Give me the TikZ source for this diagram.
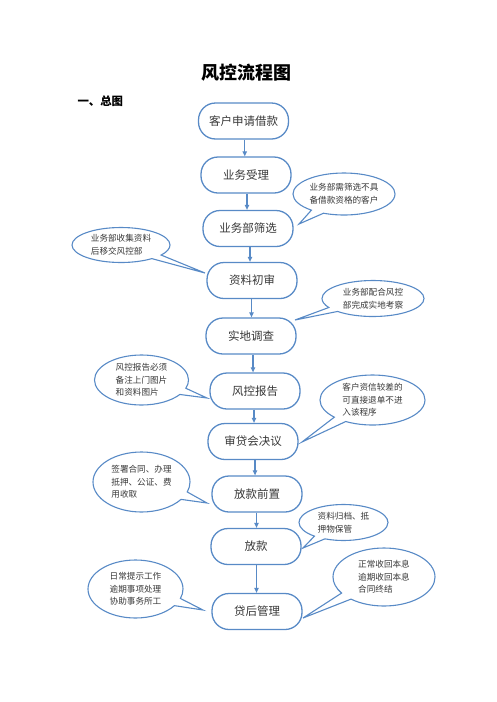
\documentclass[tikz,border=0pt]{standalone}
\usepackage{fontspec}
\setmainfont{Noto Sans CJK SC}
\usetikzlibrary{shapes.callouts,shapes.geometric,arrows.meta,calc}
\definecolor{lineblue}{RGB}{88,138,198}
\definecolor{txt}{RGB}{55,55,55}
\begin{document}
\begin{tikzpicture}[x=1pt,y=-1pt,
  stepbox/.style={draw=lineblue,line width=1.3pt,rounded corners=17pt,minimum width=90pt,minimum height=36pt,inner sep=0pt,font=\fontsize{11.5}{13}\selectfont,text=txt},
  bubble/.style={ellipse callout,draw=lineblue,line width=1.1pt,callout pointer arc=16,align=left,inner sep=0pt,font=\fontsize{8.6}{12.6}\selectfont,text=txt},
  arr/.style={draw=lineblue,line width=1.1pt,-{Triangle[length=5pt,width=4.5pt]}}]
\useasboundingbox (0,0) rectangle (496,702);
\node[font=\fontsize{18}{20}\selectfont\bfseries] (title) at (246,73) {风控流程图};
\node[font=\fontsize{11.4}{13}\selectfont\bfseries,anchor=west] (sec) at (74,101) {一、总图};
\node[stepbox] (b1) at (243.5,121) {客户申请借款};
\node[stepbox] (b2) at (246,175) {业务受理};
\node[stepbox] (b3) at (248,228.5) {业务部筛选};
\node[stepbox] (b4) at (252,280.5) {资料初审};
\node[stepbox] (b5) at (251,336) {实地调查};
\node[stepbox] (b6) at (255,391) {风控报告};
\node[stepbox] (b7) at (253,441.5) {审贷会决议};
\node[stepbox] (b8) at (257,494) {放款前置};
\node[stepbox] (b9) at (256,546.5) {放款};
\node[stepbox] (b10) at (257,611.5) {贷后管理};
\foreach \a/\b in {b1/b2,b2/b3,b3/b4,b4/b5,b5/b6,b6/b7,b7/b8,b8/b9,b9/b10}{
  \path let \p1=(\a.south),\p2=(\b.north) in
    coordinate (s-\a) at ({(\x1+\x2)/2},\y1) coordinate (e-\a) at ({(\x1+\x2)/2},\y2);
  \draw[arr] (s-\a) -- (e-\a);
}
\coordinate (t1) at (299,224);
\coordinate (t2) at (205,273);
\coordinate (t3) at (295,320);
\coordinate (t4) at (207,398);
\coordinate (t5) at (302,442);
\coordinate (t6) at (207,503);
\coordinate (t7) at (303,548);
\coordinate (t8) at (203,610);
\coordinate (t9) at (303,618);
\node[bubble,minimum width=102pt,minimum height=42pt,callout absolute pointer={(t1)}] (c1) at (344,194) {业务部需筛选不具\\备借款资格的客户};
\node[bubble,minimum width=98pt,minimum height=35pt,callout absolute pointer={(t2)}] (c2) at (121,245) {业务部收集资料\\后移交风控部};
\node[bubble,minimum width=102pt,minimum height=36pt,callout absolute pointer={(t3)}] (c3) at (373,298.5) {业务部配合风控\\部完成实地考察};
\node[bubble,minimum width=94pt,minimum height=50pt,callout absolute pointer={(t4)}] (c4) at (141.5,380) {风控报告必须\\备注上门图片\\和资料图片};
\node[bubble,minimum width=105pt,minimum height=50pt,callout absolute pointer={(t5)}] (c5) at (372.5,400) {客户资信较差的\\可直接退单不进\\入该程序};
\node[bubble,minimum width=97pt,minimum height=60pt,callout absolute pointer={(t6)}] (c6) at (141.5,482) {签署合同、办理\\抵押、公证、费\\用收取};
\node[bubble,minimum width=89pt,minimum height=36pt,callout absolute pointer={(t7)}] (c7) at (343.5,522.5) {资料归档、抵\\押物保管};
\node[bubble,minimum width=95pt,minimum height=58pt,callout absolute pointer={(t8)}] (c8) at (135.5,589) {日常提示工作\\逾期事项处理\\协助事务所工};
\node[bubble,minimum width=102pt,minimum height=58pt,callout absolute pointer={(t9)}] (c9) at (384,577) {正常收回本息\\逾期收回本息\\合同终结};
\end{tikzpicture}
\end{document}
